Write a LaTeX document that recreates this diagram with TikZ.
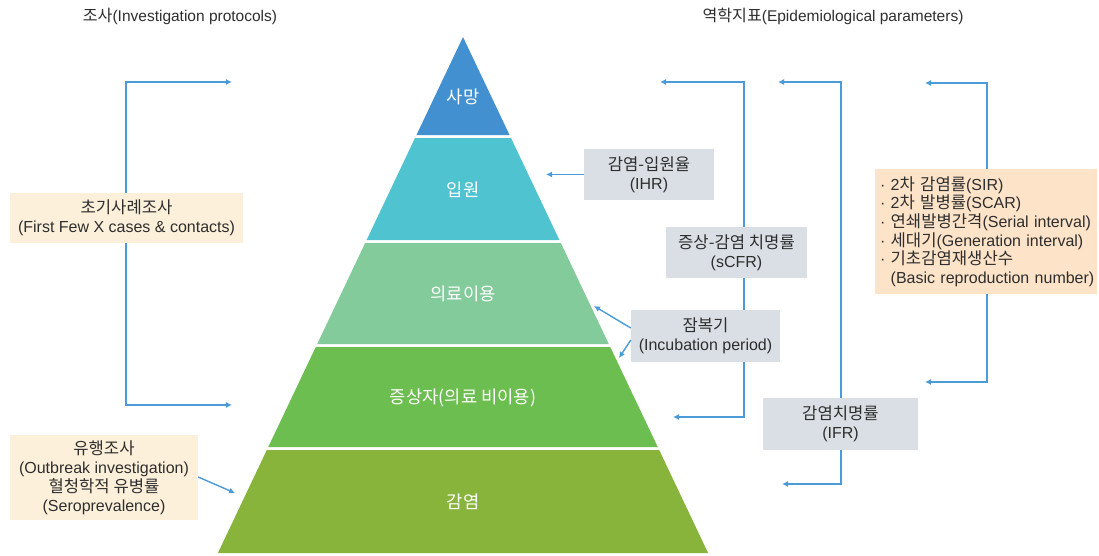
\documentclass[tikz,border=0pt]{standalone}
\usepackage{fontspec}
\setmainfont{Liberation Sans}
\newfontfamily\kr[Scale=1.04]{Noto Sans CJK KR}
\usetikzlibrary{arrows.meta}
\definecolor{lineblue}{HTML}{4A9BD8}
\definecolor{cSamang}{HTML}{4290D0}
\definecolor{cIpwon}{HTML}{4FC3CF}
\definecolor{cUiryo}{HTML}{84CB9B}
\definecolor{cJeung}{HTML}{6DBE50}
\definecolor{cGam}{HTML}{88B43C}
\definecolor{cream}{HTML}{FDF0DA}
\definecolor{peach}{HTML}{FDE3C8}
\definecolor{grayb}{HTML}{D9DFE5}
\definecolor{txt}{HTML}{2E2E2E}
\tikzset{
  conn/.style={draw=lineblue, line width=1.4pt, -{Latex[length=6pt,width=6pt]}},
  conn2/.style={draw=lineblue, line width=1.4pt, {Latex[length=6pt,width=6pt]}-{Latex[length=6pt,width=6pt]}},
  boxbase/.style={inner sep=0pt, align=center, text=txt, font=\fontsize{16}{19}\selectfont},
  creambox/.style={boxbase, fill=cream},
  peachbox/.style={boxbase, fill=peach},
  graybox/.style={boxbase, fill=grayb},
  layerlabel/.style={text=white, font=\kr\fontsize{17}{20}\selectfont, inner sep=0pt},
  titlelabel/.style={text=txt, font=\fontsize{15.5}{19}\selectfont, inner sep=0pt},
}
\begin{document}
\begin{tikzpicture}[x=1pt,y=-1pt]
\useasboundingbox (0,0) rectangle (1099,555);
% pyramid layers
\fill[cSamang] (463,37) -- (509.55,135) -- (416.45,135) -- cycle;
\fill[cIpwon] (415.0,138) -- (511.0,138) -- (559.4,240) -- (366.6,240) -- cycle;
\fill[cUiryo] (365.15,243) -- (560.85,243) -- (608.8,344) -- (317.2,344) -- cycle;
\fill[cJeung] (315.75,347) -- (610.25,347) -- (657.75,447) -- (268.25,447) -- cycle;
\fill[cGam] (266.8,450) -- (659.2,450) -- (708.1,553) -- (217.9,553) -- cycle;
\node[layerlabel] (samang) at (463,97) {사망};
\node[layerlabel] (ipwon) at (463,190) {입원};
\node[layerlabel] (uiryo) at (463,294) {의료이용};
\node[layerlabel] (jeung) at (463,398) {증상자(의료 비이용)};
\node[layerlabel] (gam) at (463,502) {감염};
% titles
\node[titlelabel] (tl) at (180,16) {{\kr 조사}(Investigation protocols)};
\node[titlelabel] (tr) at (833,16) {{\kr 역학지표}(Epidemiological parameters)};
% coordinates
\coordinate (lt) at (232,82);
\coordinate (lb) at (232,405);
\coordinate (st) at (660,82);
\coordinate (sb) at (673,417);
\coordinate (ft) at (778,82);
\coordinate (fb) at (782,484);
\coordinate (ot) at (925,83);
\coordinate (ob) at (925,382);
\coordinate (ihrT) at (546,174.5);
\coordinate (incA) at (594,306);
\coordinate (incB) at (619,358);
\coordinate (outT) at (235,493);
% bracket lines
\draw[conn2] (lt) -- (126,82) -- (126,405) -- (lb);
\draw[conn2] (st) -- (744,82) -- (744,417) -- (sb);
\draw[conn2] (ft) -- (841,82) -- (841,484) -- (fb);
\draw[conn2] (ot) -- (987,83) -- (987,382) -- (ob);
% boxes
\node[creambox, minimum width=233pt, minimum height=50pt] (ffx) at (126.5,218)
  {{\kr 초기사례조사}\\(First Few X cases \& contacts)};
\node[creambox, minimum width=188pt, minimum height=85pt] (outb) at (104,477.5)
  {{\kr 유행조사}\\(Outbreak investigation)\\{\kr 혈청학적 유병률}\\(Seroprevalence)};
\node[graybox, minimum width=130pt, minimum height=51pt] (ihr) at (649,174.5)
  {{\kr 감염-입원율}\\(IHR)};
\node[graybox, minimum width=141pt, minimum height=51pt] (scfr) at (736.5,252.5)
  {{\kr 증상-감염 치명률}\\(sCFR)};
\node[graybox, minimum width=149pt, minimum height=52pt] (inc) at (705.5,336)
  {{\kr 잠복기}\\(Incubation period)};
\node[graybox, minimum width=155pt, minimum height=52pt] (ifr) at (840.5,424)
  {{\kr 감염치명률}\\(IFR)};
\node[peachbox, minimum width=222pt, minimum height=125pt, align=left, text width=212pt, inner xsep=5pt, font=\fontsize{16}{18.6}\selectfont] (params) at (986,231.5)
  {\mbox{· 2{\kr 차 감염률}(SIR)}\\
   \mbox{· 2{\kr 차 발병률}(SCAR)}\\
   \mbox{· {\kr 연쇄발병간격}(Serial interval)}\\
   \mbox{· {\kr 세대기}(Generation interval)}\\
   \mbox{· {\kr 기초감염재생산수}}\\
   \mbox{\phantom{· }(Basic reproduction number)}};
% arrows from boxes
\draw[conn] (ihr.west) -- (ihrT);
\draw[conn] (inc.west |- 0,328) -- (incA);
\draw[conn] (inc.west |- 0,340) -- (incB);
\draw[conn] (outb.east |- 0,477) -- (outT);
\end{tikzpicture}
\end{document}
